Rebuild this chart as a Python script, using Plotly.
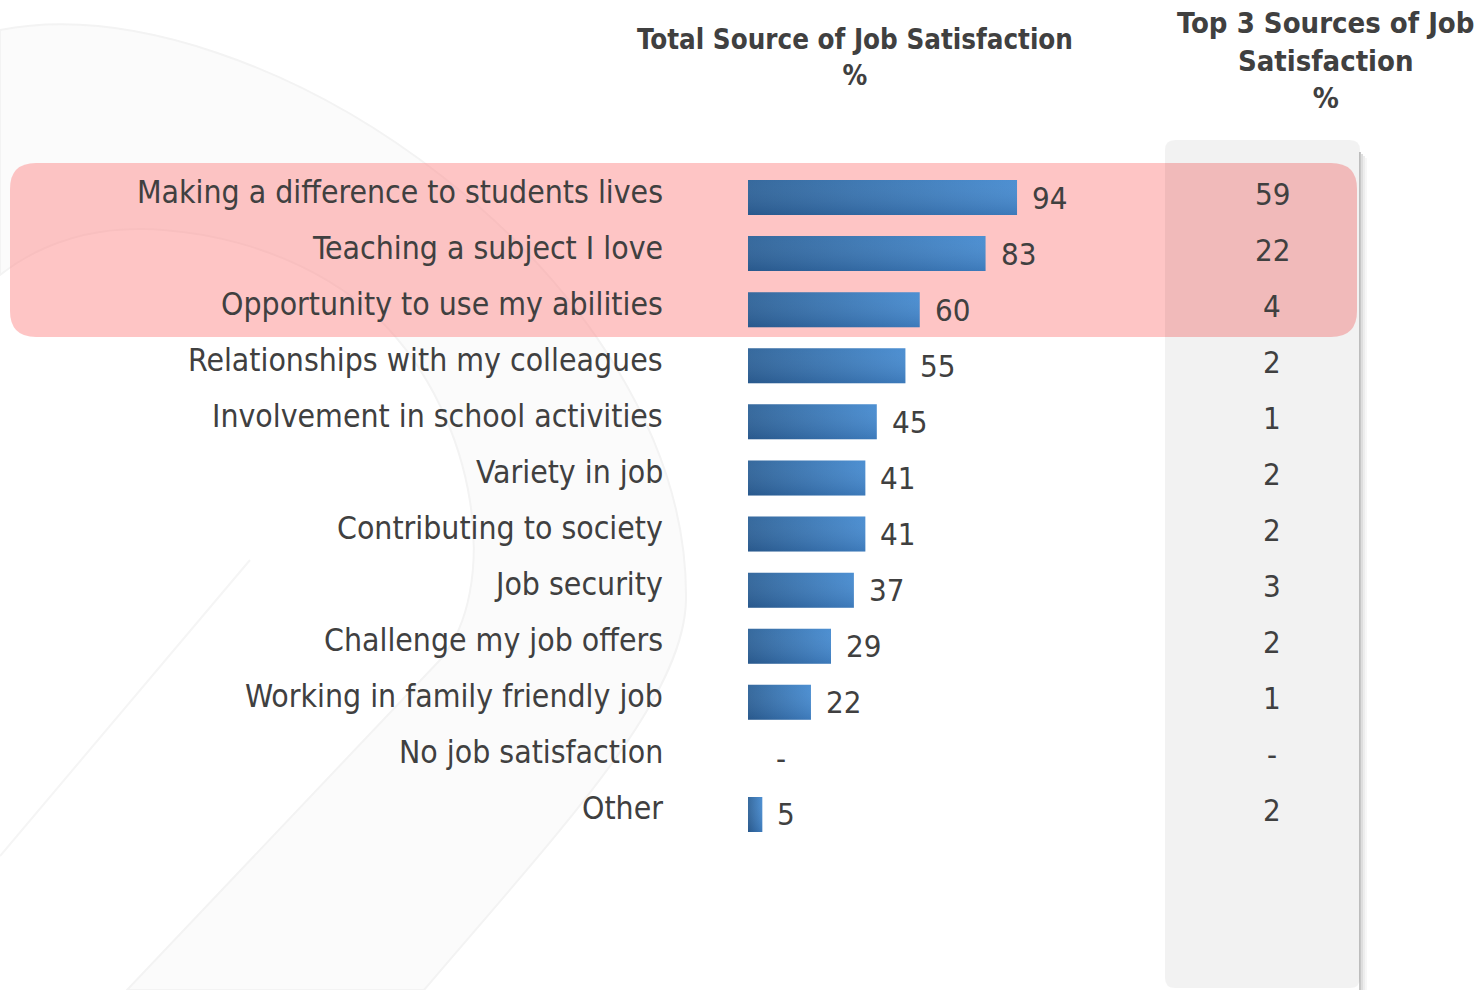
import plotly.graph_objects as go

# ---------------- data ----------------
categories = [
    "Making a difference to students lives",
    "Teaching a subject I love",
    "Opportunity to use my abilities",
    "Relationships with my colleagues",
    "Involvement in school activities",
    "Variety in job",
    "Contributing to society",
    "Job security",
    "Challenge my job offers",
    "Working in family friendly job",
    "No job satisfaction",
    "Other",
]
total_pct = [94, 83, 60, 55, 45, 41, 41, 37, 29, 22, None, 5]
top3_pct = [59, 22, 4, 2, 1, 2, 2, 3, 2, 1, None, 2]
title_total = "Total Source of Job Satisfaction<br>%"
title_top3 = "Top 3 Sources of Job<br>Satisfaction<br>%"

# ---------------- layout helpers ----------------
W, H = 1484, 990
FONT = "DejaVu Sans Condensed, DejaVu Sans, sans-serif"
TXT = "#404040"
ZERO_PX = 748.0
PX_PER_UNIT = 2.862
ROW0_PX = 197.5
ROW_STEP = 56.09
HALF_BAR = 0.312


def fx(x):
    return x / W


def fy(y):
    return 1 - y / H


def P(x, y):
    return f"{fx(x):.5f},{fy(y):.5f}"


def rounded_rect(x0, y0, x1, y1, r):
    return (
        f"M {P(x0 + r, y0)} L {P(x1 - r, y0)} Q {P(x1, y0)} {P(x1, y0 + r)} "
        f"L {P(x1, y1 - r)} Q {P(x1, y1)} {P(x1 - r, y1)} "
        f"L {P(x0 + r, y1)} Q {P(x0, y1)} {P(x0, y1 - r)} "
        f"L {P(x0, y0 + r)} Q {P(x0, y0)} {P(x0 + r, y0)} Z"
    )


shapes = []

# faint background watermark band
band = (
    f"M {P(0, 30)} C {P(260, -20)} {P(690, 280)} {P(686, 600)} "
    f"C {P(684, 700)} {P(560, 830)} {P(424, 990)} L {P(127, 990)} "
    f"L {P(440, 660)} C {P(500, 590)} {P(480, 420)} {P(380, 320)} "
    f"C {P(300, 245)} {P(180, 220)} {P(100, 232)} C {P(60, 238)} {P(25, 255)} {P(0, 275)} Z"
)
shapes.append(dict(type="path", path=band, xref="paper", yref="paper",
                   fillcolor="#fbfbfb", line=dict(color="#f3f3f3", width=2), layer="below"))
shapes.append(dict(type="path", path=f"M {P(0, 856)} L {P(250, 560)}", xref="paper", yref="paper",
                   line=dict(color="#f5f5f5", width=2), layer="below"))

# pink highlight behind the top three rows
shapes.append(dict(type="path", path=rounded_rect(10, 163, 1357, 337, 26), xref="paper", yref="paper",
                   fillcolor="rgba(254,140,140,0.5)", line=dict(width=0), layer="below"))

# shadow of the grey column
for k, a in [(0, 0.22), (2, 0.13), (4, 0.07), (6, 0.03)]:
    shapes.append(dict(type="rect", xref="paper", yref="paper",
                       x0=fx(1359 + k), x1=fx(1361 + k), y0=fy(995), y1=fy(152 + k),
                       fillcolor=f"rgba(0,0,0,{a})", line=dict(width=0), layer="below"))

# grey column for the top-3 figures
shapes.append(dict(type="path", path=rounded_rect(1165, 140, 1360, 988, 10), xref="paper", yref="paper",
                   fillcolor="rgba(0,0,0,0.05)", line=dict(width=0), layer="below"))

# ---------------- figure ----------------
fig = go.Figure()

for i, v in enumerate(total_pct):
    if v is None:
        continue
    xs = [0, v, v, 0, 0]
    ys = [i - HALF_BAR, i - HALF_BAR, i + HALF_BAR, i + HALF_BAR, i - HALF_BAR]
    fig.add_trace(go.Scatter(
        x=xs, y=ys, mode="lines", fill="toself", line=dict(width=0),
        fillgradient=dict(type="horizontal", colorscale=[[0, "#2e6399"], [1, "#468bd0"]]),
        name=categories[i], hoverinfo="skip", showlegend=False))
    fig.add_trace(go.Scatter(
        x=xs, y=ys, mode="lines", fill="toself", line=dict(width=0),
        fillgradient=dict(type="vertical",
                          colorscale=[[0, "rgba(10,30,70,0.16)"], [1, "rgba(255,255,255,0.04)"]]),
        hoverinfo="skip", showlegend=False))

annotations = []
for i, c in enumerate(categories):
    annotations.append(dict(x=fx(665), xref="paper", y=i, yref="y", text=c, showarrow=False,
                            xanchor="right", yanchor="middle", yshift=6,
                            font=dict(family=FONT, size=31.7, color=TXT)))
for i, v in enumerate(total_pct):
    annotations.append(dict(x=0 if v is None else v, xref="x", y=i, yref="y",
                            text="-" if v is None else str(v), showarrow=False,
                            xanchor="left", yanchor="middle", xshift=26 if v is None else 13, yshift=0,
                            font=dict(family=FONT, size=31, color=TXT)))
for i, v in enumerate(top3_pct):
    annotations.append(dict(x=fx(1272), xref="paper", y=i, yref="y",
                            text="-" if v is None else str(v), showarrow=False,
                            xanchor="center", yanchor="middle", yshift=4,
                            font=dict(family=FONT, size=31, color=TXT)))
annotations.append(dict(x=fx(855), xref="paper", y=fy(57), yref="paper", text=title_total,
                        showarrow=False, xanchor="center", yanchor="middle",
                        font=dict(family=FONT, size=27.5, color=TXT, weight="bold")))
annotations.append(dict(x=fx(1325), xref="paper", y=fy(61), yref="paper", text=title_top3,
                        showarrow=False, xanchor="center", yanchor="middle",
                        font=dict(family=FONT, size=29, color=TXT, weight="bold")))

fig.update_layout(
    width=W, height=H,
    margin=dict(l=0, r=0, t=0, b=0),
    paper_bgcolor="white", plot_bgcolor="rgba(0,0,0,0)",
    showlegend=False,
    xaxis=dict(domain=[0, 1], range=[-ZERO_PX / PX_PER_UNIT, (W - ZERO_PX) / PX_PER_UNIT],
               visible=False, fixedrange=True),
    yaxis=dict(domain=[0, 1], range=[(H - ROW0_PX) / ROW_STEP, -ROW0_PX / ROW_STEP],
               visible=False, fixedrange=True),
    shapes=shapes,
    annotations=annotations,
)

fig.write_html("out.html")
